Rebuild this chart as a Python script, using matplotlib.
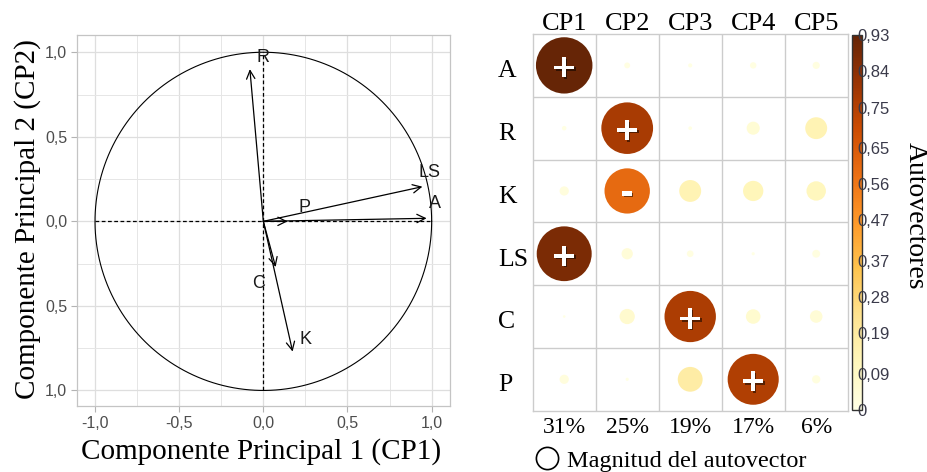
import matplotlib
matplotlib.use("Agg")
import matplotlib.pyplot as plt
import numpy as np
from matplotlib.patches import Circle, FancyArrowPatch
from matplotlib.lines import Line2D
from matplotlib import patheffects as pe
from matplotlib.colors import Normalize

# --- data: correlation circle (left panel) ---
var_names = ["R", "LS", "A", "P", "C", "K"]
cp1_load = [-0.08, 0.945, 0.97, 0.144, 0.073, 0.174]
cp2_load = [0.90, 0.205, 0.018, 0.0, -0.27, -0.77]
# label offsets relative to arrow tips
lab_dx = [0.08, 0.045, 0.05, 0.10, -0.10, 0.075]
lab_dy = [0.07, 0.085, 0.09, 0.08, -0.10, 0.07]

x_ticks = [-1.0, -0.5, 0.0, 0.5, 1.0]
x_ticklabels = ["-1,0", "-0,5", "0,0", "0,5", "1,0"]
y_ticks = [-1.0, -0.5, 0.0, 0.5, 1.0]
y_ticklabels = ["1,0", "0,5", "0,0", "0,5", "1,0"]

# --- data: eigenvector matrix (right panel) ---
rows = ["A", "R", "K", "LS", "C", "P"]
cols = ["CP1", "CP2", "CP3", "CP4", "CP5"]
pct = ["31%", "25%", "19%", "17%", "6%"]
vec_A = [0.93, 0.01, 0.005, 0.012, 0.015]
vec_R = [0.006, 0.78, 0.004, 0.05, 0.14]
vec_K = [0.025, -0.60, 0.14, 0.12, 0.11]
vec_LS = [0.88, 0.037, 0.013, 0.003, 0.018]
vec_C = [0.002, 0.068, 0.77, 0.062, 0.046]
vec_P = [0.025, 0.003, 0.18, 0.76, 0.02]
cbar_ticks = [0, 0.09, 0.19, 0.28, 0.37, 0.47, 0.56, 0.65, 0.75, 0.84, 0.93]
cbar_labels = ["0", "0,09", "0,19", "0,28", "0,37", "0,47", "0,56", "0,65", "0,75", "0,84", "0,93"]

W, H = 927, 472
fig = plt.figure(figsize=(W / 100, H / 100), dpi=100)

def box(x0, y0, x1, y1):
    # pixel box (top-left origin) -> figure fraction rect
    return [x0 / W, 1 - y1 / H, (x1 - x0) / W, (y1 - y0) / H]

serif = "Liberation Serif"
sans = "Liberation Sans"

# ---------------- left panel ----------------
ax = fig.add_axes(box(77, 35, 450, 406))
ax.set_xlim(-1.107, 1.109)
ax.set_ylim(-1.092, 1.102)
ax.set_xticks(np.arange(-1.0, 1.01, 0.25), minor=True)
ax.set_yticks(np.arange(-1.0, 1.01, 0.25), minor=True)
ax.set_xticks(x_ticks)
ax.set_xticklabels(x_ticklabels)
ax.set_yticks(y_ticks)
ax.set_yticklabels(y_ticklabels)
ax.grid(which="major", color="#dedede", lw=0.9)
ax.grid(which="minor", color="#e6e6e6", lw=0.7)
ax.set_axisbelow(True)
ax.tick_params(which="major", length=4, width=0.8, color="#b3b3b3", pad=3,
               labelsize=11.5, labelcolor="#4d4d4d")
ax.tick_params(which="minor", length=0)
for lab in ax.get_xticklabels() + ax.get_yticklabels():
    lab.set_family(sans)
for s in ax.spines.values():
    s.set_color("#c4c4c4")
    s.set_linewidth(0.9)

t = np.linspace(0, 2 * np.pi, 400)
ax.plot(np.cos(t), np.sin(t), color="black", lw=0.8)
ax.plot([-1, 1], [0, 0], color="black", lw=0.9, ls=(0, (3, 2)))
ax.plot([0, 0], [-1, 1], color="black", lw=0.9, ls=(0, (3, 2)))

for name, x, y, dx, dy in zip(var_names, cp1_load, cp2_load, lab_dx, lab_dy):
    arr = FancyArrowPatch((0, 0), (x, y), arrowstyle="->,head_length=0.6,head_width=0.3",
                          mutation_scale=10, color="black", lw=0.9, shrinkA=0, shrinkB=0)
    ax.add_patch(arr)
    ax.text(x + dx, y + dy, name, ha="center", va="center", fontsize=13,
            family=sans, color="#1a1a1a")

fig.text(261 / W, 1 - 452 / H, "Componente Principal 1 (CP1)", ha="center", va="center",
         fontsize=21, family=serif)
fig.text(28 / W, 1 - 219 / H, "Componente Principal 2 (CP2)", ha="center", va="center",
         rotation=90, fontsize=21, family=serif)

# ---------------- right panel ----------------
mat = np.array([vec_A, vec_R, vec_K, vec_LS, vec_C, vec_P])
cmap = plt.get_cmap("YlOrBr")
norm = Normalize(0, 0.93)

axm = fig.add_axes(box(532.7, 34, 847.7, 410.7))
axm.set_xlim(0, len(cols))
axm.set_ylim(len(rows), 0)
axm.set_xticks([])
axm.set_yticks([])
for s in axm.spines.values():
    s.set_color("#cccccc")
    s.set_linewidth(1.0)
for i in range(1, len(cols)):
    axm.axvline(i, color="#cccccc", lw=1.0)
for j in range(1, len(rows)):
    axm.axhline(j, color="#cccccc", lw=1.0)

for r in range(len(rows)):
    for c in range(len(cols)):
        v = mat[r, c]
        rad = 0.93 * np.sqrt(abs(v)) / 2
        axm.add_patch(Circle((c + 0.5, r + 0.5), rad, facecolor=cmap(norm(abs(v))),
                             edgecolor="none"))
        if abs(v) >= 0.5:
            sign = "+" if v > 0 else "-"
            axm.text(c + 0.5, r + 0.5, sign, ha="center", va="center_baseline",
                     fontsize=23, fontweight="bold", color="white", family="DejaVu Sans",
                     path_effects=[pe.withSimplePatchShadow(offset=(1, -1), shadow_rgbFace="black", alpha=0.5)])

for c, (name, p) in enumerate(zip(cols, pct)):
    axm.text(c + 0.5, -0.06, name, ha="center", va="baseline", fontsize=19, family=serif,
             clip_on=False)
    axm.text(c + 0.5, 6.36, p, ha="center", va="baseline", fontsize=17, family=serif,
             clip_on=False)
for r, name in enumerate(rows):
    axm.text(-0.55, r + 0.69, name, ha="left", va="baseline", fontsize=18.5, family=serif,
             clip_on=False)

fig.add_artist(Line2D([547 / W], [1 - 458 / H], marker="o", ms=16, mfc="none", mec="black",
                      mew=1.2, transform=fig.transFigure))
fig.text(567 / W, 1 - 466.7 / H, "Magnitud del autovector", ha="left", va="baseline",
         fontsize=17.5, family=serif)

# colorbar
cax = fig.add_axes(box(852, 35, 862, 410))
sm = plt.cm.ScalarMappable(norm=norm, cmap=cmap)
cb = fig.colorbar(sm, cax=cax)
cb.set_ticks(cbar_ticks)
cb.set_ticklabels(cbar_labels)
cb.outline.set_edgecolor("#333333")
cb.outline.set_linewidth(1.0)
cax.tick_params(length=0, pad=-3, labelsize=12, labelcolor="#3a3a4a")
for lab in cax.get_yticklabels():
    lab.set_family(["Liberation Sans Narrow", sans])
fig.text(915 / W, 1 - 216 / H, "Autovectores", rotation=270, ha="center", va="center",
         fontsize=20, family=serif)

fig.savefig("out.png", dpi=100)
